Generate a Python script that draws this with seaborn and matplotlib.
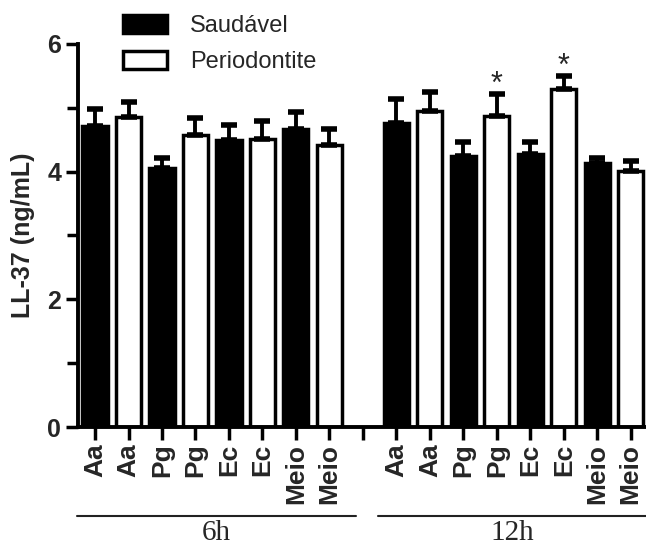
import numpy as np
import pandas as pd
import matplotlib
matplotlib.use('Agg')
import matplotlib.pyplot as plt
import seaborn as sns
from matplotlib.patches import Patch

# 数据
bacteria = ['Aa', 'Aa', 'Pg', 'Pg', 'Ec', 'Ec', 'Meio', 'Meio']
condition = ['Saudável', 'Periodontite'] * 4
mean_6h = [4.71, 4.86, 4.05, 4.57, 4.50, 4.51, 4.66, 4.41]
err_6h = [0.27, 0.23, 0.17, 0.27, 0.23, 0.29, 0.28, 0.25]
mean_12h = [4.76, 4.95, 4.24, 4.87, 4.27, 5.29, 4.13, 4.01]
err_12h = [0.38, 0.30, 0.22, 0.35, 0.19, 0.21, 0.09, 0.15]
star_12h = [False, False, False, True, False, True, False, False]
times = ['6h', '12h']

sns.set_style('ticks')
plt.rcParams['font.family'] = ['Liberation Sans', 'DejaVu Sans']

rows = []
for t, means, errs in [('6h', mean_6h, err_6h), ('12h', mean_12h, err_12h)]:
    for i, (b, c, m, e) in enumerate(zip(bacteria, condition, means, errs)):
        rows.append({'key': f'{t}_{i}', 'time': t, 'bact': b, 'cond': c, 'mean': m, 'err': e})
df = pd.DataFrame(rows)

order = list(df.loc[df.time == '6h', 'key']) + ['gap'] + list(df.loc[df.time == '12h', 'key'])
pos = {k: i for i, k in enumerate(order)}
df['pos'] = df['key'].map(pos)

fig = plt.figure(figsize=(6.46, 5.48), dpi=100)
ax = fig.add_axes([0.1207, 0.2208, 0.879, 0.699])

sns.barplot(data=df, x='key', y='mean', hue='cond', order=order,
            hue_order=['Saudável', 'Periodontite'],
            palette={'Saudável': 'black', 'Periodontite': 'white'},
            dodge=False, width=0.75, edgecolor='black', linewidth=2.5,
            errorbar=None, legend=False, ax=ax)

# 误差线（只画上半部分）
ax.errorbar(df['pos'], df['mean'], yerr=[np.zeros(len(df)), df['err']],
            fmt='none', ecolor='black', elinewidth=2.8, capsize=6, capthick=4,
            zorder=5)

# 显著性星号
d12 = df[df.time == '12h'].reset_index(drop=True)
for i, s in enumerate(star_12h):
    if s:
        r = d12.iloc[i]
        ax.text(r['pos'], r['mean'] + r['err'] - 0.1, '*', ha='center', va='bottom',
                fontsize=22)

ax.set_ylim(0, 6)
ax.set_xlim(-0.51, 16.45)
ax.set_yticks([0, 2, 4, 6])
ax.set_yticks([1, 3, 5], minor=True)
ax.set_yticklabels(['0', '2', '4', '6'], fontsize=18, fontweight='bold')
ax.set_xticks(range(len(order)))
ax.set_xticklabels([df.set_index('key').loc[k, 'bact'] if k != 'gap' else '' for k in order],
                   rotation=90, fontsize=19, fontweight='bold')
ax.set_xlabel('')
ax.set_ylabel('LL-37 (ng/mL)', fontsize=18, fontweight='bold', labelpad=9)
ax.tick_params(axis='both', which='major', length=9, width=2.5, color='black', pad=3)
ax.tick_params(axis='y', which='minor', length=8, width=2.5, color='black')
sns.despine(ax=ax)
for sp in ['left', 'bottom']:
    ax.spines[sp].set_linewidth(2.8)
    ax.spines[sp].set_color('black')

# 分组标注
trans = ax.get_xaxis_transform()
xmax = ax.get_xlim()[1]
for t in times:
    p = df.loc[df.time == t, 'pos']
    x0, x1 = p.min() - 0.55, min(p.max() + 0.8, xmax)
    ax.plot([x0, x1], [-0.232, -0.232], transform=trans,
            color='#222222', lw=1.5, clip_on=False)
    ax.text((x0 + x1) / 2, -0.243, t, transform=trans, ha='center', va='top',
            fontsize=21, family='Liberation Serif')

# 图例
handles = [Patch(facecolor='black', edgecolor='black', lw=2.5),
           Patch(facecolor='white', edgecolor='black', lw=2.5)]
fig.legend(handles, ['Saudável', 'Periodontite'], loc='upper left',
           bbox_to_anchor=(0.158, 1.012), frameon=False, fontsize=17,
           handlelength=1.86, handleheight=0.8, labelspacing=0.58, handletextpad=0.95)

fig.savefig('out.png', dpi=100)
